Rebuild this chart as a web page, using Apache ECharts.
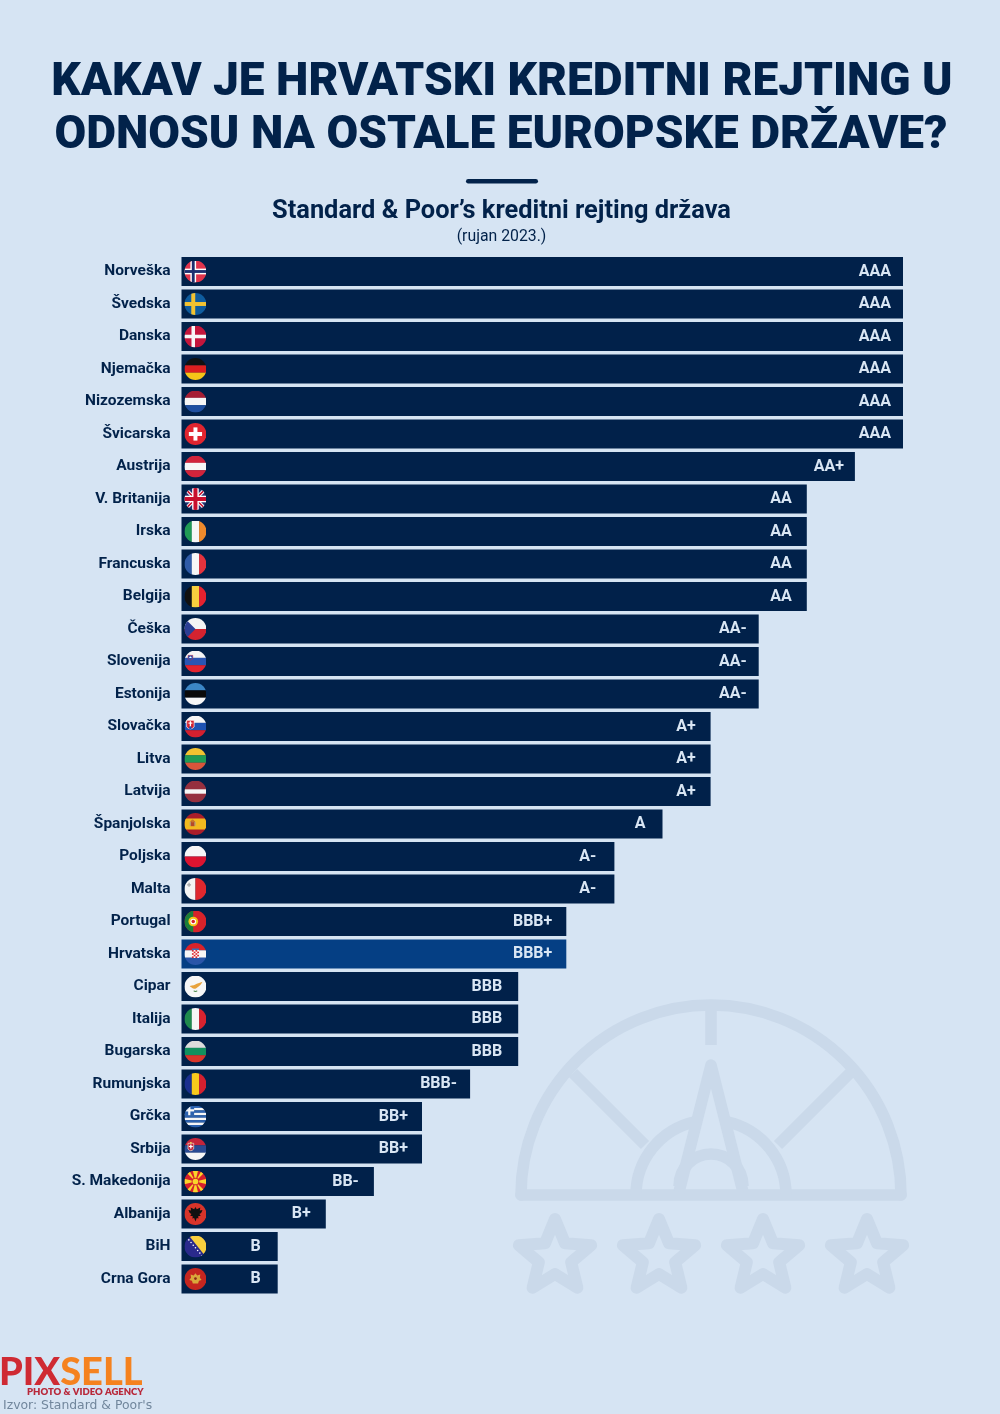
<!DOCTYPE html>
<html>
<head>
<meta charset="utf-8">
<style>html,body{margin:0;padding:0;background:#d6e4f3}#c{width:1000px;height:1414px}</style>
<script src="https://cdn.jsdelivr.net/npm/echarts@6/dist/echarts.min.js"></script>
</head>
<body>
<div id="c"></div>
<script>
// ---------- DATA ----------
const countries = ['Norveška','Švedska','Danska','Njemačka','Nizozemska','Švicarska','Austrija','V. Britanija','Irska','Francuska','Belgija','Češka','Slovenija','Estonija','Slovačka','Litva','Latvija','Španjolska','Poljska','Malta','Portugal','Hrvatska','Cipar','Italija','Bugarska','Rumunjska','Grčka','Srbija','S. Makedonija','Albanija','BiH','Crna Gora'];
const ratings = ['AAA','AAA','AAA','AAA','AAA','AAA','AA+','AA','AA','AA','AA','AA-','AA-','AA-','A+','A+','A+','A','A-','A-','BBB+','BBB+','BBB','BBB','BBB','BBB-','BB+','BB+','BB-','B+','B','B'];
const ratingSteps = [15,15,15,15,15,15,14,13,13,13,13,12,12,12,11,11,11,10,9,9,8,8,7,7,7,6,5,5,4,3,2,2];
const flagKeys = ['no','se','dk','de','nl','ch','at','gb','ie','fr','be','cz','si','ee','sk','lt','lv','es','pl','mt','pt','hr','cy','it','bg','ro','gr','rs','mk','al','ba','me'];
const highlighted = 'Hrvatska';
const titleLines = ['KAKAV JE HRVATSKI KREDITNI REJTING U','ODNOSU NA OSTALE EUROPSKE DRŽAVE?'];
const subtitle = 'Standard & Poor’s kreditni rejting država';
const subtitleDate = '(rujan 2023.)';
const sourceText = 'Izvor: Standard & Poor\'s';

// ---------- STYLE ----------
const BG='#d6e4f3', NAVY='#02224a', BAR='#01214a', HILITE='#053f84', LABEL='#d9e6f4', WM='#cad9ea';
const labelGap = {'AAA':12,'AA+':11,'AA':15,'AA-':12,'A+':15,'A':17,'A-':18,'BBB+':14,'BBB':16,'BBB-':13,'BB+':14,'BB-':15,'B+':15,'B':17};

// ---------- FLAGS ----------
const h=(...c)=>c.map((k,i)=>`<rect x="0" y="${100*i/c.length}" width="100" height="${100/c.length+.5}" fill="${k}"/>`).join('');
const v=(...c)=>c.map((k,i)=>`<rect y="0" x="${100*i/c.length}" height="100" width="${100/c.length+.5}" fill="${k}"/>`).join('');
const R=(x,y,w,hh,f)=>`<rect x="${x}" y="${y}" width="${w}" height="${hh}" fill="${f}"/>`;
const C=(x,y,r,f)=>`<circle cx="${x}" cy="${y}" r="${r}" fill="${f}"/>`;
const P=(d,f,extra='')=>`<path d="${d}" fill="${f}" ${extra}/>`;
const cross=(cx,w,col)=>R(cx-w/2,0,w,100,col)+R(0,50-w/2,100,w,col);
function checker(){let s=R(34,32,32,36,'#fff');for(let i=0;i<5;i++)for(let j=0;j<4;j++)if((i+j)%2===0)s+=R(34+j*8,32+i*7.2,8,7.2,'#d8232a');return s+R(34,25,32,7,'#3b6fb6');}
const flags={
 no:R(0,0,100,100,'#e0344c')+cross(40,26,'#fff')+cross(40,13,'#1d2f6f'),
 se:R(0,0,100,100,'#0e5c9e')+cross(40,18,'#f2c230'),
 dk:R(0,0,100,100,'#c4163c')+cross(40,16,'#f6f6f6'),
 de:h('#111','#dd1f1f','#f5c518'),
 nl:h('#a51e34','#f6f6f6','#1f4fa0'),
 ch:R(0,0,100,100,'#e0252f')+R(41,20,18,60,'#fff')+R(20,41,60,18,'#fff'),
 at:h('#d2243b','#f6f6f6','#d2243b'),
 gb:R(0,0,100,100,'#22306f')+`<path d="M0 0L100 100M100 0L0 100" stroke="#fff" stroke-width="16"/><path d="M0 0L100 100M100 0L0 100" stroke="#c8102e" stroke-width="7"/>`+cross(50,30,'#fff')+cross(50,18,'#c8102e'),
 ie:v('#1f9a55','#f6f6f6','#ee8a2c'),
 fr:v('#2f5ba8','#f6f6f6','#e5333d'),
 be:v('#111','#f8cf3e','#e5222f'),
 cz:h('#f4f4f4','#d4232f')+P('M0 0L50 50L0 100Z','#2b3f95'),
 si:h('#f6f6f6','#2a55b3','#e2232f')+P('M16 22h22v16q-11 12-22 0Z','#2a55b3','stroke="#e2232f" stroke-width="2"')+P('M20 34l7-8l7 8Z','#fff'),
 ee:h('#3b86c6','#0a0a0a','#f6f6f6'),
 sk:h('#f6f6f6','#1e53b3','#d3202f')+P('M10 22h34v30q-17 18-34 0Z','#d3202f','stroke="#fff" stroke-width="3"')+R(24,26,6,24,'#fff')+R(18,32,18,5,'#fff')+C(27,56,6,'#1e53b3'),
 lt:h('#f2c230','#1f9a55','#d9553b'),
 lv:R(0,0,100,100,'#96303f')+R(0,40,100,20,'#f6f6f6'),
 es:R(0,0,100,100,'#aa1e2a')+R(0,25,100,50,'#f2b91f')+R(28,36,18,24,'#b5472a')+C(37,36,7,'#c9762c')+R(24,40,4,18,'#9a9a9a')+R(46,40,4,18,'#9a9a9a'),
 pl:h('#f6f6f6','#dc1430'),
 mt:v('#f4f4f4','#e0282e')+P('M18 22h6v6h6v6h-6v6h-6v-6h-6v-6h6Z','#a8a8a8'),
 pt:R(0,0,100,100,'#d8232a')+R(0,0,40,100,'#1a7f3a')+C(40,50,22,'#f5c518')+C(40,50,13,'#fff')+C(40,50,8,'#d8232a'),
 hr:h('#d8232a','#f6f6f6','#2a55a8')+checker(),
 cy:R(0,0,100,100,'#f6f6f6')+P('M24 48C38 46 48 44 56 38C66 32 74 32 82 28C76 38 70 48 58 54C52 62 40 62 34 56C30 52 26 52 24 48Z','#e8a23c')+P('M40 70C46 76 54 76 60 70L56 68C52 71 48 71 44 68Z','#4d8a4a'),
 it:v('#1f8a4c','#f6f6f6','#d8232f'),
 bg:h('#dcdcdc','#12905e','#d8352a'),
 ro:v('#1a2f8f','#f8c91c','#d3202f'),
 gr:[0,1,2,3,4,5,6,7,8].map(i=>R(0,i*100/9,100,100/9+.3,i%2?'#f6f6f6':'#2c62b0')).join('')+R(0,0,44,44,'#2c62b0')+R(17,0,10,44,'#f6f6f6')+R(0,17,44,10,'#f6f6f6'),
 rs:h('#c5243a','#2a4a92','#f6f6f6')+P('M16 24h26v26q-13 16-26 0Z','#c5243a','stroke="#efe6d0" stroke-width="3"')+R(25,18,8,8,'#e7c35c')+R(26,30,6,18,'#fff')+R(20,36,18,5,'#fff'),
 mk:R(0,0,100,100,'#d5202c')+`<path d="M50 50L38 0H62ZM50 50L38 100H62ZM50 50L0 38V62ZM50 50L100 38V62ZM50 50L0 0L22 0L50 50L0 22ZM50 50L100 0L78 0L50 50L100 22ZM50 50L0 100L22 100L50 50L0 78ZM50 50L100 100L78 100L50 50L100 78Z" fill="#f9d42a"/>`+C(50,50,17,'#d5202c')+C(50,50,13,'#f9d42a'),
 al:R(0,0,100,100,'#d8342a')+P('M50 18L56 28L72 20L70 34L82 32L76 46L68 50L74 58L62 60L64 70L56 68L50 84L44 68L36 70L38 60L26 58L32 50L24 46L18 32L30 34L28 20L44 28Z','#111'),
 ba:R(0,0,100,100,'#2a2a8c')+P('M20 0H100V100Z','#f8cf3e')+[[10,8],[20,20],[30,32],[40,44],[50,56],[60,68],[70,80],[80,92]].map(p=>C(p[0],p[1],3.6,'#fff')).join(''),
 me:R(0,0,100,100,'#c5261f')+P('M50 24L58 34L72 30L70 44L78 54L66 58L62 70H38L34 58L22 54L30 44L28 30L42 34Z','#d9a93b')+C(50,48,6,'#8a2a1a')
};
const flagUri=k=>'image://data:image/svg+xml;charset=utf-8,'+encodeURIComponent(`<svg xmlns="http://www.w3.org/2000/svg" width="100" height="100" viewBox="0 0 100 100"><defs><clipPath id="c"><circle cx="50" cy="50" r="50"/></clipPath></defs><g clip-path="url(#c)">${flags[k]}</g></svg>`);

// ---------- WATERMARK ----------
const wmStroke={stroke:WM,fill:null,lineWidth:11.5,lineCap:'round',lineJoin:'round'};
const G={cx:711,cy:1195};
function star(cx){const pts=[];for(let i=0;i<10;i++){const r=i%2?17:38,a=-Math.PI/2+i*Math.PI/5;pts.push([cx+r*Math.cos(a),1257+r*Math.sin(a)]);}return{type:'polygon',silent:true,shape:{points:pts},style:{...wmStroke,lineWidth:12}};}
const watermark=[
 {type:'arc',silent:true,shape:{cx:G.cx,cy:G.cy,r:190,startAngle:Math.PI,endAngle:2*Math.PI},style:wmStroke},
 {type:'line',silent:true,shape:{x1:521,y1:1195,x2:901,y2:1195},style:wmStroke},
 {type:'line',silent:true,shape:{x1:711,y1:1005,x2:711,y2:1045},style:{...wmStroke,lineCap:'butt'}},
 {type:'line',silent:true,shape:{x1:573,y1:1073,x2:645,y2:1145},style:{...wmStroke,lineCap:'butt'}},
 {type:'line',silent:true,shape:{x1:850,y1:1073,x2:778,y2:1145},style:{...wmStroke,lineCap:'butt'}},
 {type:'arc',silent:true,shape:{cx:G.cx,cy:G.cy,r:75,startAngle:Math.PI,endAngle:1.43*Math.PI},style:{...wmStroke,lineCap:'butt'}},
 {type:'arc',silent:true,shape:{cx:G.cx,cy:G.cy,r:75,startAngle:1.57*Math.PI,endAngle:2*Math.PI},style:{...wmStroke,lineCap:'butt'}},
 {type:'arc',silent:true,shape:{cx:G.cx,cy:1186,r:32,startAngle:Math.PI,endAngle:2*Math.PI},style:{...wmStroke,lineCap:'butt'}},
 {type:'polyline',silent:true,shape:{points:[[679,1192],[711,1065],[743,1192]]},style:{...wmStroke,lineCap:'butt'}},
 star(555),star(659),star(763),star(867)
];

// ---------- TEXT / DECOR ----------
const T=(x,y,text,font,fill,align='left')=>({type:'text',silent:true,x,y,style:{text,font,fill,textAlign:align}});
const decor=[
 T(502,60,titleLines[0],'900 46px Roboto',NAVY,'center'),
 T(501,113,titleLines[1],'900 46px Roboto',NAVY,'center'),
 {type:'rect',silent:true,shape:{x:466,y:179,width:72,height:4.5,r:2.2},style:{fill:NAVY}},
 T(501.5,199,subtitle,'700 25.4px Roboto',NAVY,'center'),
 T(501.5,229,subtitleDate,'400 15.8px Roboto',NAVY,'center'),
 {type:'text',silent:true,x:-1,y:1392,style:{text:'{a|PIX}{b|SELL}',rich:{a:{fontSize:38,fontWeight:900,fontFamily:'Lato',fill:'#cf2a33'},b:{fontSize:38,fontWeight:900,fontFamily:'Lato',fill:'#f5821f'}},textVerticalAlign:'bottom'}},
 T(27,1387,'PHOTO & VIDEO AGENCY','800 9.5px Lato','#b8283a'),
 T(3,1400,sourceText,'400 12.4px "DejaVu Sans"','#71869c')
];

// ---------- CHART ----------
const chart=echarts.init(document.getElementById('c'),null,{renderer:'canvas',width:1000,height:1414});
chart.setOption({
 backgroundColor:BG,
 animation:false,
 grid:{left:181.5,top:255.25,width:721.5,height:1040,containLabel:false},
 xAxis:{type:'value',min:0,max:15,show:false},
 yAxis:{type:'category',data:countries,inverse:true,axisLine:{show:false},axisTick:{show:false},splitLine:{show:false},
  axisLabel:{margin:11,color:NAVY,fontFamily:'Roboto',fontWeight:700,fontSize:15.5,padding:[2,0,0,0]}},
 series:[
  {type:'bar',name:'Rejting',barWidth:29,z:2,
   data:ratingSteps.map((val,i)=>({value:val,itemStyle:{color:countries[i]===highlighted?HILITE:BAR},
     label:{show:true,position:'insideRight',distance:labelGap[ratings[i]],formatter:ratings[i],color:LABEL,fontFamily:'Roboto',fontWeight:700,fontSize:16}}))},
  {type:'scatter',name:'Zastave',z:3,silent:true,symbolSize:22,itemStyle:{opacity:1},
   data:flagKeys.map((k,i)=>({value:[0.29,i],symbol:flagUri(k)}))}
 ],
 graphic:{elements:[...watermark,...decor]}
});
</script>
</body>
</html>
